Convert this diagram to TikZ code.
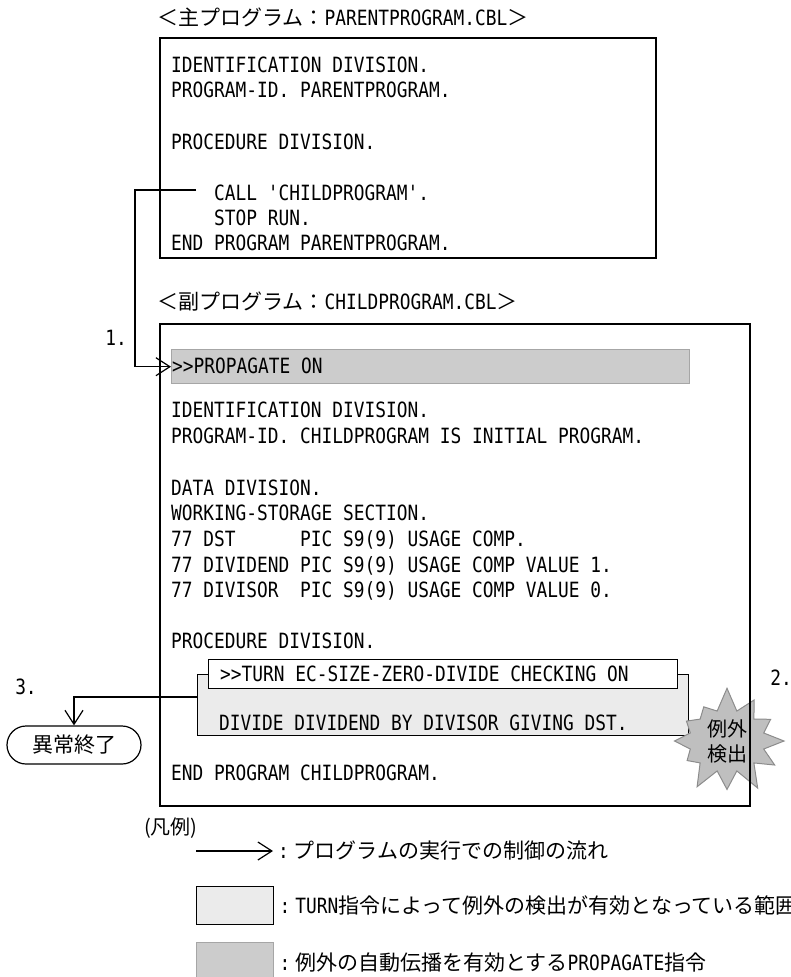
\documentclass[tikz,border=0pt]{standalone}
\usepackage{fontspec}
\setmonofont{DejaVu Sans Mono}[FakeStretch=0.85]
\newfontfamily\jpfont{Noto Sans CJK JP}
\newcommand\jp[1]{{\jpfont #1}}
\usetikzlibrary{positioning,arrows.meta,calc,shapes.symbols}

\begin{document}
\begin{tikzpicture}[x=1pt, y=-1pt,
  font=\ttfamily\fontsize{21pt}{25pt}\selectfont,
  codeline/.style={anchor=west, inner sep=0pt, text height=15.3pt, text depth=0pt},
  frame/.style={draw, line width=1.6pt, anchor=north west, inner sep=0pt},
  zone/.style={draw, line width=1.4pt, fill=black!8, anchor=north west, inner sep=0pt},
  propbox/.style={draw=black!35, line width=1.4pt, fill=black!20, anchor=north west,
    inner sep=0pt},
  burst/.style={starburst, starburst points=12, starburst point height=24pt,
    random starburst=7, fill=black!25, draw=black!45, line width=1pt,
    minimum width=124pt, minimum height=110pt, inner sep=0pt, align=center,
    font=\jpfont\fontsize{20pt}{25pt}\selectfont},
  abend/.style={draw, line width=1.2pt, rounded corners=19pt, minimum width=134pt,
    minimum height=38pt, inner sep=0pt, font=\jpfont\fontsize{21pt}{25pt}\selectfont},
  flow/.style={-{Straight Barb[length=14pt,width=18pt]}, line width=1.2pt}
]
\useasboundingbox (0,0) rectangle (791,977);

% parent program
\node[codeline] (ptitle) at (157,18) {\jp{＜主プログラム：}PARENTPROGRAM.CBL\jp{＞}};
\node[frame, minimum width=496pt, minimum height=220pt] (parentbox) at (159,37) {};
\node[codeline] (p1) at (171,65) {IDENTIFICATION DIVISION.};
\node[codeline] (p2) at (171,90) {PROGRAM-ID. PARENTPROGRAM.};
\node[codeline] (p3) at (171,142) {PROCEDURE DIVISION.};
\node[codeline] (call) at (214,193) {CALL 'CHILDPROGRAM'.};
\node[codeline] (p5) at (214,218) {STOP RUN.};
\node[codeline] (p6) at (171,243) {END PROGRAM PARENTPROGRAM.};

% child program
\node[codeline] (ctitle) at (157,302) {\jp{＜副プログラム：}CHILDPROGRAM.CBL\jp{＞}};
\node[propbox, minimum width=518pt, minimum height=34pt] (prop) at (171,349) {};
\node[codeline] (proptext) at (172,366) {>>PROPAGATE ON};
\node[codeline] (c1) at (171,410) {IDENTIFICATION DIVISION.};
\node[codeline] (c2) at (171,436) {PROGRAM-ID. CHILDPROGRAM IS INITIAL PROGRAM.};
\node[codeline] (c3) at (171,488) {DATA DIVISION.};
\node[codeline] (c4) at (171,513) {WORKING-STORAGE SECTION.};
\node[codeline] (c5) at (171,539) {77 DST\ \ \ \ \ \ PIC S9(9) USAGE COMP.};
\node[codeline] (c6) at (171,565) {77 DIVIDEND PIC S9(9) USAGE COMP VALUE 1.};
\node[codeline] (c7) at (171,590) {77 DIVISOR\ \ PIC S9(9) USAGE COMP VALUE 0.};
\node[codeline] (c8) at (171,641) {PROCEDURE DIVISION.};
\node[zone, minimum width=491pt, minimum height=61pt] (turnzone) at (197,674) {};
\node[frame, line width=1.4pt, fill=white, minimum width=469pt, minimum height=29pt]
  (turnhead) at (208,659) {};
\node[codeline] (turntext) at (220,674) {>>TURN EC-SIZE-ZERO-DIVIDE CHECKING ON};
\node[codeline] (divide) at (219,723) {DIVIDE DIVIDEND BY DIVISOR GIVING DST.};
\node[codeline] (c9) at (171,773) {END PROGRAM CHILDPROGRAM.};
\node[burst] (detect) at (727,741) {例外\\検出};
\node[frame, minimum width=590pt, minimum height=482pt] (childbox) at (159,323) {};

% control flow
\node[inner sep=0pt] (n1) at (116,338) {1.};
\node[inner sep=0pt] (n2) at (781,678) {2.};
\node[inner sep=0pt] (n3) at (26,687) {3.};
\node[abend] (abnormal) at (74,745) {異常終了};
\coordinate (callout) at (196,190);
\coordinate (turnout) at (197,697);
\draw[flow] (callout) -- ++(-61,0) |- (prop.west);
\draw[flow] (turnout) -| (abnormal.north);

% legend
\node[anchor=west, inner sep=0pt, font=\jpfont\fontsize{20pt}{20pt}\selectfont] (legend)
  at (144,828) {(凡例)};
\coordinate (legstart) at (196,851);
\node[codeline] (legflow) at (278,851) {:\hspace{5pt}\jp{プログラムの実行での制御の流れ}};
\draw[flow, shorten >=5pt] (legstart) -- (legflow.west);
\node[frame, line width=1.4pt, fill=black!8, minimum width=77pt, minimum height=38pt]
  (legturnbox) at (196,886) {};
\node[codeline, right=5pt of legturnbox] (legturn)
  {:\hspace{5pt}TURN\jp{指令によって例外の検出が有効となっている範囲}};
\node[frame, draw=black!35, line width=1.4pt, fill=black!20, minimum width=77pt,
  minimum height=40pt] (legpropbox) at (196,942) {};
\node[codeline, right=5pt of legpropbox] (legprop)
  {:\hspace{5pt}\jp{例外の自動伝播を有効とする}PROPAGATE\jp{指令}};
\end{tikzpicture}
\end{document}
